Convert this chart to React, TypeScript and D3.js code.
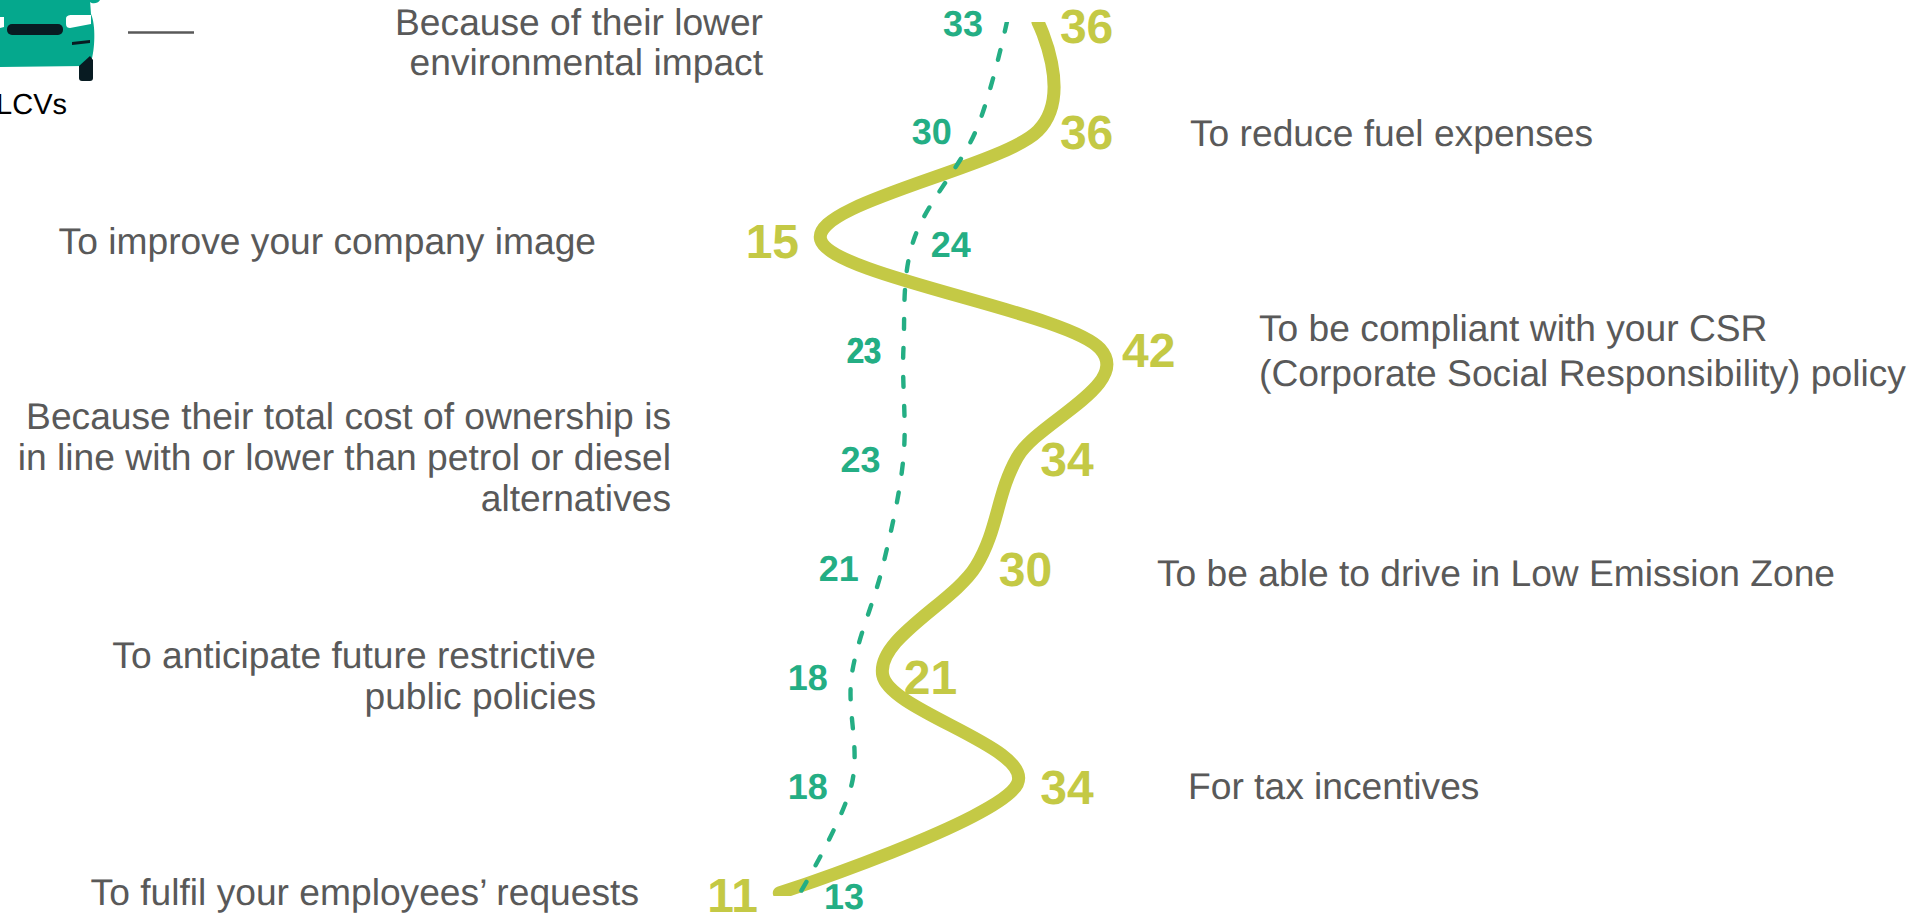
import React, {useEffect, useRef} from 'react';
import * as d3 from 'd3';

const WIDTH = 1914;
const HEIGHT = 913;

// top to bottom, both series share the same categories
const categories = [
    'Because of their lower environmental impact',
    'To reduce fuel expenses',
    'To improve your company image',
    'To be compliant with your CSR (Corporate Social Responsibility) policy',
    'Because their total cost of ownership is in line with or lower than petrol or diesel alternatives',
    'To be able to drive in Low Emission Zone',
    'To anticipate future restrictive public policies',
    'For tax incentives',
    'To fulfil your employees\u2019 requests',
];
const seriesOlive = [36, 36, 15, 42, 34, 30, 21, 34, 11];
const seriesGreen = [33, 30, 24, 23, 23, 21, 18, 18, 13];

// how each category text is broken, with its anchor
const labelLines = [
    ['Because of their lower', 'environmental impact'],
    ['To reduce fuel expenses'],
    ['To improve your company image'],
    ['To be compliant with your CSR', '(Corporate Social Responsibility) policy'],
    ['Because their total cost of ownership is', 'in line with or lower than petrol or diesel', 'alternatives'],
    ['To be able to drive in Low Emission Zone'],
    ['To anticipate future restrictive', 'public policies'],
    ['For tax incentives'],
    ['To fulfil your employees\u2019 requests'],
];
const labelX = [763, 1190, 596, 1259, 671, 1157, 596, 1188, 639];
const labelAnchor = ['end', 'start', 'end', 'start', 'end', 'start', 'end', 'start', 'end'];
const labelBaseline = [35, 146, 254, 341, 429, 586, 668, 799, 905];
const labelLeading = [40, 0, 0, 45, 41, 0, 41, 0, 0];

// value labels sit at an offset from their point
const oliveDx = [22, 22, -75, 22, 23, 23, 21, 23, -72];
const oliveDy = [21, 18, 18, 18, 18, 20, 19, 20, 19];
const greenDx = [-64, -64, 17, -57, -63, -64, -64, -64, 24];
const greenDy = [14, 13, 17, 14, 14, 15, 15, 15, 16];

const OLIVE = '#C4C945';
const GREEN = '#24AE84';
const GREY = '#595959';
const FONT = '"Liberation Sans", Arial, sans-serif';

function App() {
    const svgRef = useRef<SVGSVGElement>(null);

    useEffect(() => {
        const svg = d3.select(svgRef.current);
        svg.selectAll('*').remove();
        svg.attr('text-rendering', 'geometricPrecision');

        const xScale = d3.scaleLinear().domain([11, 42]).range([779.3, 1100]);
        const yScale = d3.scalePoint<string>().domain(categories).range([22, 893]);

        const line = d3.line<number>()
            .x(d => xScale(d))
            .y((d, i) => yScale(categories[i]) as number)
            .curve(d3.curveCatmullRom.alpha(0));

        // plot area cuts the line ends flat
        svg.append('clipPath').attr('id', 'plot')
            .append('rect')
            .attr('x', 0).attr('y', 22).attr('width', WIDTH).attr('height', 874);

        const plot = svg.append('g').attr('clip-path', 'url(#plot)');

        plot.append('path')
            .attr('d', line(seriesOlive))
            .attr('fill', 'none')
            .attr('stroke', OLIVE)
            .attr('stroke-width', 13)
            .attr('stroke-linecap', 'round');

        plot.append('path')
            .attr('d', line(seriesGreen))
            .attr('fill', 'none')
            .attr('stroke', GREEN)
            .attr('stroke-width', 4.4)
            .attr('stroke-dasharray', '10 19')
            .attr('stroke-linecap', 'round');

        // category labels
        const labels = svg.append('g')
            .attr('font-family', FONT)
            .attr('font-size', 37.2)
            .attr('fill', GREY);

        labelLines.forEach((lines, i) => {
            lines.forEach((text, j) => {
                labels.append('text')
                    .attr('x', labelX[i])
                    .attr('y', labelBaseline[i] + j * labelLeading[i])
                    .attr('text-anchor', labelAnchor[i])
                    .text(text);
            });
        });

        // value labels
        svg.append('g')
            .attr('font-family', FONT)
            .attr('font-weight', 700)
            .attr('font-size', 48)
            .attr('fill', OLIVE)
            .selectAll('text')
            .data(seriesOlive)
            .join('text')
            .attr('x', (d, i) => xScale(d) + oliveDx[i])
            .attr('y', (d, i) => (yScale(categories[i]) as number) + oliveDy[i])
            .text(d => d);

        svg.append('g')
            .attr('font-family', FONT)
            .attr('font-weight', 700)
            .attr('font-size', 36)
            .attr('fill', GREEN)
            .selectAll('text')
            .data(seriesGreen)
            .join('text')
            .attr('x', (d, i) => xScale(d) + greenDx[i])
            .attr('y', (d, i) => (yScale(categories[i]) as number) + greenDy[i])
            .attr('textLength', (d, i) => (i === 3 ? 34 : null))
            .attr('lengthAdjust', 'spacingAndGlyphs')
            .text(d => d);

        // the 4th green label is doubled in the source
        svg.append('text')
            .attr('font-family', FONT)
            .attr('font-weight', 700)
            .attr('font-size', 36)
            .attr('fill', GREEN)
            .attr('x', xScale(seriesGreen[3]) + greenDx[3] + 1)
            .attr('y', (yScale(categories[3]) as number) + greenDy[3])
            .attr('textLength', 34)
            .attr('lengthAdjust', 'spacingAndGlyphs')
            .text(seriesGreen[3]);

        // legend: cropped van icon, tick line and name
        const van = svg.append('g');
        van.append('path')
            .attr('d', 'M0 0 L90 0 L91 14 C96 25 95 50 91 62 L84 66 L0 67 Z')
            .attr('fill', '#05A88D');
        van.append('path')
            .attr('d', 'M90 0 L100 0 C98 4 92 4 90 2 Z')
            .attr('fill', '#05A88D');
        van.append('path')
            .attr('d', 'M0 17 L4 17 L4 27 L0 28 Z M66 19 C66 16 68 15 72 15 L91 15 L91 24 L70 28 C68 28 66 27 66 24 Z')
            .attr('fill', '#fff');
        van.append('rect')
            .attr('x', 7).attr('y', 24).attr('width', 56).attr('height', 11).attr('rx', 5)
            .attr('fill', '#081B22');
        van.append('path')
            .attr('d', 'M72 42 L90 40 L90 43 L72 45 Z')
            .attr('fill', '#081B22');
        van.append('path')
            .attr('d', 'M79 66 L90 56 L93 60 L93 78 C93 80 92 81 90 81 L82 81 C80 81 79 80 79 78 Z')
            .attr('fill', '#081B22');
        svg.append('line')
            .attr('x1', 128).attr('x2', 194).attr('y1', 32.5).attr('y2', 32.5)
            .attr('stroke', GREY).attr('stroke-width', 2.7);
        svg.append('text')
            .attr('x', 67).attr('y', 114)
            .attr('text-anchor', 'end')
            .attr('font-family', FONT)
            .attr('font-size', 29)
            .attr('fill', '#000')
            .text('LCVs');
    }, []);

    return (
        <svg
            ref={svgRef}
            width={WIDTH}
            height={HEIGHT}
            style={{position: 'absolute', left: 0, top: 0, background: '#fff'}}
        />
    );
}

export default App;
